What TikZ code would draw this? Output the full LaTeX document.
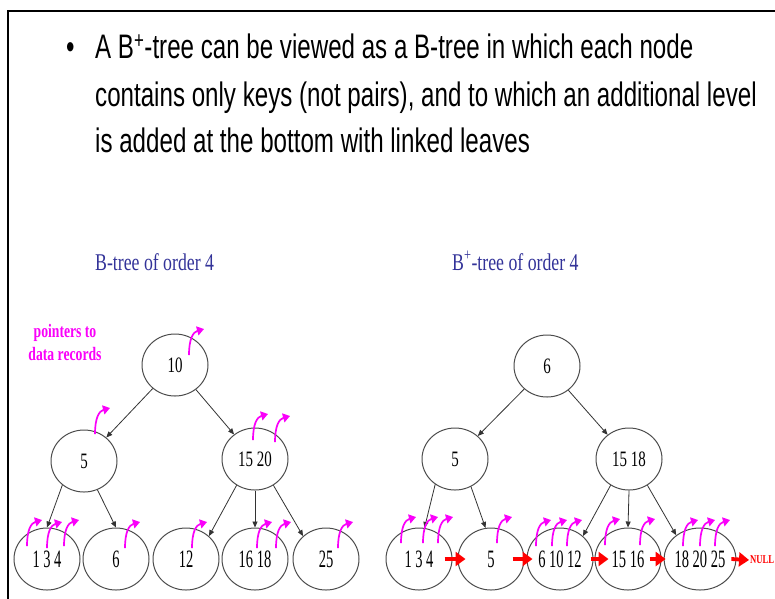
\documentclass[tikz,border=0pt]{standalone}
\usepackage{fontspec}
\setmainfont[FakeStretch=0.72]{Liberation Serif}
\newfontfamily\headfont[FakeStretch=0.71]{Liberation Sans}
\newfontfamily\capfont[FakeStretch=0.74]{Liberation Serif}
\newfontfamily\innerfont[FakeStretch=0.68]{Liberation Serif}
\newfontfamily\leaffont[FakeStretch=0.58]{Liberation Serif}
\usetikzlibrary{arrows.meta,shapes.geometric}

\definecolor{ptrpink}{RGB}{250,0,250}
\definecolor{capblue}{RGB}{51,51,153}
\definecolor{linkred}{RGB}{255,0,0}

% curved pointer to a data record, starting at (#1,#2)
\newcommand\recptr[2]{\draw[ptr,shift={(#1,#2)}] (0,0) .. controls (0,-16) and (4,-23) .. (15,-26);}

\begin{document}
\begin{tikzpicture}[x=1pt,y=-1pt,
  key/.style={ellipse,draw=black!70,line width=1pt,minimum width=66pt,minimum height=62pt,
    inner sep=0pt,font=\innerfont\fontsize{22}{22}\selectfont},
  leaf/.style={key,font=\leaffont\fontsize{25}{25}\selectfont},
  edge/.style={draw=black!80,line width=0.8pt,-{Triangle[length=6pt,width=5pt]}},
  ptr/.style={draw=ptrpink,line width=1.7pt,-{Triangle[length=7pt,width=9pt]}},
  link/.style={draw=linkred,line width=3.8pt,-{Triangle[length=10pt,width=14pt]}},
  headline/.style={anchor=base west,inner sep=0pt,font=\headfont\fontsize{34}{38}\selectfont},
  caption/.style={anchor=base west,inner sep=0pt,text=capblue,font=\capfont\fontsize{24}{24}\selectfont}]

\useasboundingbox (0,0) rectangle (775,598);
\fill[white] (0,0) rectangle (775,598);

% slide frame
\draw[line width=1.4pt] (776,11) -- (8,11) -- (8,600);

% heading
\node[headline] (bul) at (66,58) {•};
\node[headline] (h1) at (95,58) {A B\textsuperscript{+}-tree can be viewed as a B-tree in which each node};
\node[headline] (h2) at (95,106) {contains only keys (not pairs), and to which an additional level};
\node[headline] (h3) at (95,152) {is added at the bottom with linked leaves};

% captions
\node[caption] (capb) at (95,270) {B-tree of order 4};
\node[caption] (capbp) at (452,270) {B\textsuperscript{+}-tree of order 4};

\node[align=center,text=ptrpink,font=\bfseries\fontsize{19}{23}\selectfont] (ptrnote) at (65,342) {pointers to\\data records};

% ---- B-tree ----
\node[key] (a10) at (175,365) {10};
\node[key] (a5) at (84,461) {5};
\node[key] (a1520) at (255,459) {15 20};
\node[leaf] (a134) at (47,559) {1 3 4};
\node[leaf] (a6) at (116,559) {6};
\node[leaf] (a12) at (186,559) {12};
\node[leaf] (a1618) at (255,559) {16 18};
\node[leaf] (a25) at (326,559) {25};

\draw[edge] (a10) -- (a5);
\draw[edge] (a10) -- (a1520);
\draw[edge] (a5.228) -- (a134.north);
\draw[edge] (a5.295) -- (a6.north);
\draw[edge] (a1520.235) -- (a12.45);
\draw[edge] (a1520.south) -- (a1618.north);
\draw[edge] (a1520.305) -- (a25.135);

\recptr{189}{355}
\recptr{95}{434}
\recptr{253}{440}
\recptr{275}{442}
\recptr{27}{546}
\recptr{47}{548}
\recptr{64}{546}
\recptr{125}{548}
\recptr{192}{548}
\recptr{257}{548}
\recptr{276}{548}
\recptr{338}{548}

% ---- B+-tree ----
\node[key] (b6) at (547,366) {6};
\node[key] (b5) at (455,459) {5};
\node[key] (b1518) at (629,459) {15 18};
\node[leaf] (c134) at (419,559) {1 3 4};
\node[leaf] (c5) at (491,559) {5};
\node[leaf] (c61012) at (560,559) {6 10 12};
\node[leaf] (c1516) at (628,559) {15 16};
\node[leaf] (c182025) at (700,559) {18 20 25};
\coordinate (cnull) at (749,560);

\draw[edge] (b6) -- (b5);
\draw[edge] (b6) -- (b1518);
\draw[edge] (b5.232) -- (c134.80);
\draw[edge] (b5.300) -- (c5.100);
\draw[edge] (b1518.235) -- (c61012.45);
\draw[edge] (b1518.south) -- (c1516.north);
\draw[edge] (b1518.305) -- (c182025.135);

\draw[link] ([xshift=-8pt]c134.east) -- ([xshift=8pt]c5.west);
\draw[link] ([xshift=-12pt]c5.east) -- ([xshift=6pt]c61012.west);
\draw[link] ([xshift=-3pt]c61012.east) -- ([xshift=14pt]c1516.west);
\draw[link] ([xshift=-12pt]c1516.east) -- ([xshift=2pt]c182025.west);
\draw[link] ([xshift=-5pt]c182025.east) -- (cnull);
\node[anchor=west,inner sep=1pt,text=linkred,font=\bfseries\fontsize{12}{12}\selectfont] (nul) at (cnull) {NULL};

\recptr{401}{543}
\recptr{423}{543}
\recptr{438}{543}
\recptr{497}{543}
\recptr{536}{546}
\recptr{552}{546}
\recptr{567}{546}
\recptr{605}{545}
\recptr{640}{545}
\recptr{683}{546}
\recptr{700}{546}
\recptr{715}{546}

\end{tikzpicture}
\end{document}
